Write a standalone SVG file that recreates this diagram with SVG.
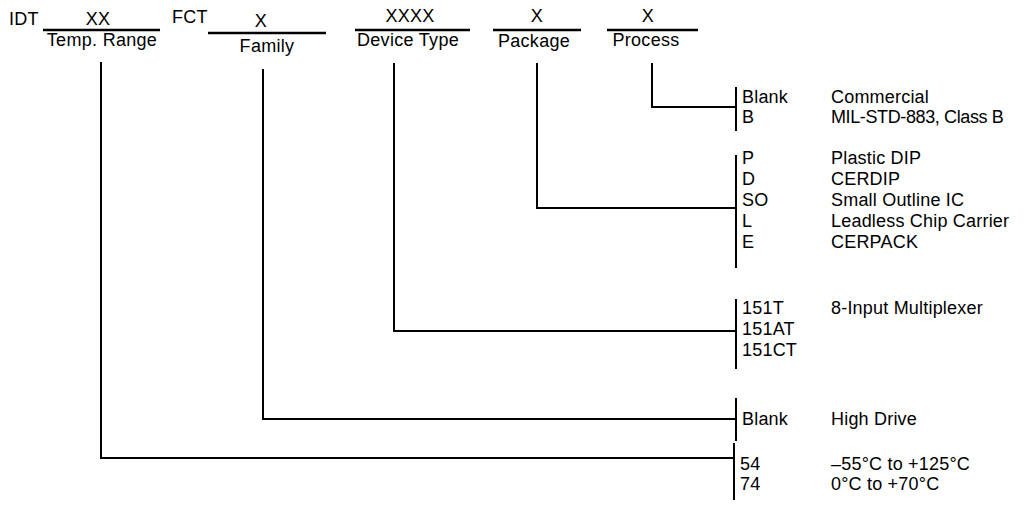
<svg xmlns="http://www.w3.org/2000/svg" width="1024" height="505" viewBox="0 0 1024 505">
<style>
text{font-family:"Liberation Sans",Arial,sans-serif;fill:#000}
.h{font-size:18px;letter-spacing:0.3px}
.t{font-size:18px;letter-spacing:0.2px}
.c{text-anchor:middle}
.ln{stroke:#000;stroke-width:2;fill:none}
.ul{stroke:#000;stroke-width:2.5;fill:none}
</style>
<rect width="1024" height="505" fill="#fff"/>
<g id="header">
<text class="h" x="9" y="25">IDT</text>
<text class="h" x="172" y="23">FCT</text>
</g>
<g id="temp-range">
<text class="h c" x="98" y="25">XX</text>
<line class="ul" x1="43" y1="30" x2="160" y2="30"/>
<text class="h c" x="102" y="46">Temp. Range</text>
</g>
<g id="family">
<text class="h c" x="261" y="27">X</text>
<line class="ul" x1="208" y1="33" x2="326" y2="33"/>
<text class="h c" x="267" y="52">Family</text>
</g>
<g id="device-type">
<text class="h c" x="410" y="22">XXXX</text>
<line class="ul" x1="355" y1="30" x2="470" y2="30"/>
<text class="h c" x="408" y="46">Device Type</text>
</g>
<g id="package">
<text class="h c" x="537" y="22">X</text>
<line class="ul" x1="493" y1="30" x2="581" y2="30"/>
<text class="h c" x="534" y="47">Package</text>
</g>
<g id="process">
<text class="h c" x="648" y="22">X</text>
<line class="ul" x1="607" y1="30" x2="698" y2="30"/>
<text class="h c" x="646" y="46">Process</text>
</g>
<g id="connectors">
<polyline class="ln" points="652,63 652,107 736,107"/>
<polyline class="ln" points="537,63 537,208 736,208"/>
<polyline class="ln" points="394,63 394,331 736,331"/>
<polyline class="ln" points="263,69 263,419 736,419"/>
<polyline class="ln" points="101,62 101,458 734,458"/>
<line class="ln" x1="736" y1="87" x2="736" y2="131"/>
<line class="ln" x1="736" y1="155" x2="736" y2="268"/>
<line class="ln" x1="736" y1="299" x2="736" y2="369"/>
<line class="ln" x1="736" y1="398" x2="736" y2="441"/>
<line class="ln" x1="734" y1="443" x2="734" y2="500"/>
</g>
<g id="process-options">
<text class="t" x="742" y="103">Blank</text><text class="t" x="831" y="103">Commercial</text>
<text class="t" x="742" y="123">B</text><text class="t" x="831" y="123" textLength="173" lengthAdjust="spacing">MIL-STD-883, Class B</text>
</g>
<g id="package-options">
<text class="t" x="742" y="164">P</text><text class="t" x="831" y="164">Plastic DIP</text>
<text class="t" x="742" y="185">D</text><text class="t" x="831" y="185">CERDIP</text>
<text class="t" x="742" y="206">SO</text><text class="t" x="831" y="206">Small Outline IC</text>
<text class="t" x="742" y="227">L</text><text class="t" x="831" y="227">Leadless Chip Carrier</text>
<text class="t" x="742" y="248">E</text><text class="t" x="831" y="248">CERPACK</text>
</g>
<g id="device-options">
<text class="t" x="742" y="314">151T</text><text class="t" x="831" y="314">8-Input Multiplexer</text>
<text class="t" x="742" y="335">151AT</text>
<text class="t" x="742" y="356">151CT</text>
</g>
<g id="family-options">
<text class="t" x="742" y="425">Blank</text><text class="t" x="831" y="425">High Drive</text>
</g>
<g id="temp-options">
<text class="t" x="740" y="470">54</text><text class="t" x="831" y="470">–55°C to +125°C</text>
<text class="t" x="740" y="490">74</text><text class="t" x="831" y="490">0°C to +70°C</text>
</g>
</svg>
